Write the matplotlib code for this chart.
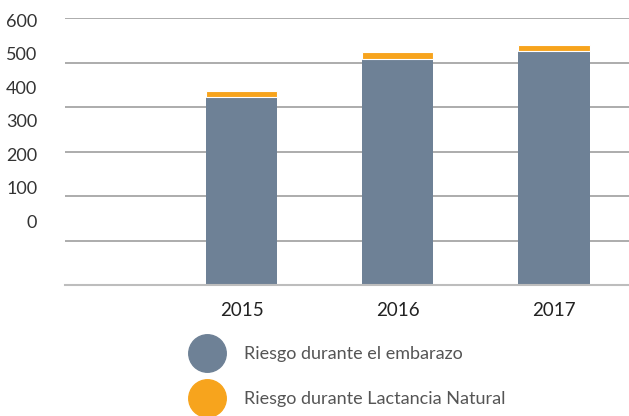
import matplotlib
matplotlib.use("Agg")
import matplotlib.pyplot as plt
from matplotlib.lines import Line2D

years = ["2015", "2016", "2017"]
embarazo = [422, 508, 526]
lactancia = [14, 16, 13]
series_names = ["Riesgo durante el embarazo", "Riesgo durante Lactancia Natural"]
grid_values = [0, 100, 200, 300, 400, 500, 600]
tick_labels = ["0", "100", "200", "300", "400", "500", "600"]

c_gray = "#6e8196"
c_orange = "#f7a41d"

plt.rcParams['font.family'] = ['Lato', 'DejaVu Sans']

fig = plt.figure(figsize=(6.29, 4.16), dpi=100)
ax = fig.add_axes([65/629, 1-285/416, (629-65)/629, 267/416])

x = list(range(len(years)))
ax.bar(x, embarazo, width=0.455, color=c_gray, zorder=3)
ax.bar(x, lactancia, bottom=embarazo, width=0.455, color=c_orange,
       edgecolor="white", linewidth=0.8, zorder=3)

ax.set_xlim(-1.13, 2.48)
ax.set_ylim(0, 600)
ax.set_yticks(grid_values)
ax.set_yticklabels([])
ax.grid(axis="y", color="#a6a6a6", linewidth=1.3, zorder=0)
ax.tick_params(axis="y", length=0)
ax.set_xticks(x)
ax.set_xticklabels(years, fontsize=13.5, color="#222222")
ax.tick_params(axis="x", length=0, pad=12)
for s in ax.spines.values():
    s.set_visible(False)
ax.axhline(0, color="#bdbdbd", linewidth=1.5, zorder=4, clip_on=False)

# label axis (labels are offset from the gridlines in the source)
ax2 = ax.twinx()
ax2.set_ylim(-191, 606)
ax2.set_yticks(grid_values)
ax2.set_yticklabels(tick_labels, fontsize=13, color="#333333")
ax2.yaxis.tick_left()
ax2.tick_params(axis="y", length=0, pad=20)
for s in ax2.spines.values():
    s.set_visible(False)

handles = [Line2D([], [], marker="o", linestyle="none", markersize=27,
                  markerfacecolor=c, markeredgecolor=c) for c in (c_gray, c_orange)]
fig.legend(handles, series_names, loc="upper left",
           bbox_to_anchor=(189/629, 1-346/416), frameon=False,
           fontsize=13, labelcolor="#555555", handletextpad=1.05,
           labelspacing=1.6, borderaxespad=0, borderpad=0)

fig.savefig("out.png", dpi=100)
